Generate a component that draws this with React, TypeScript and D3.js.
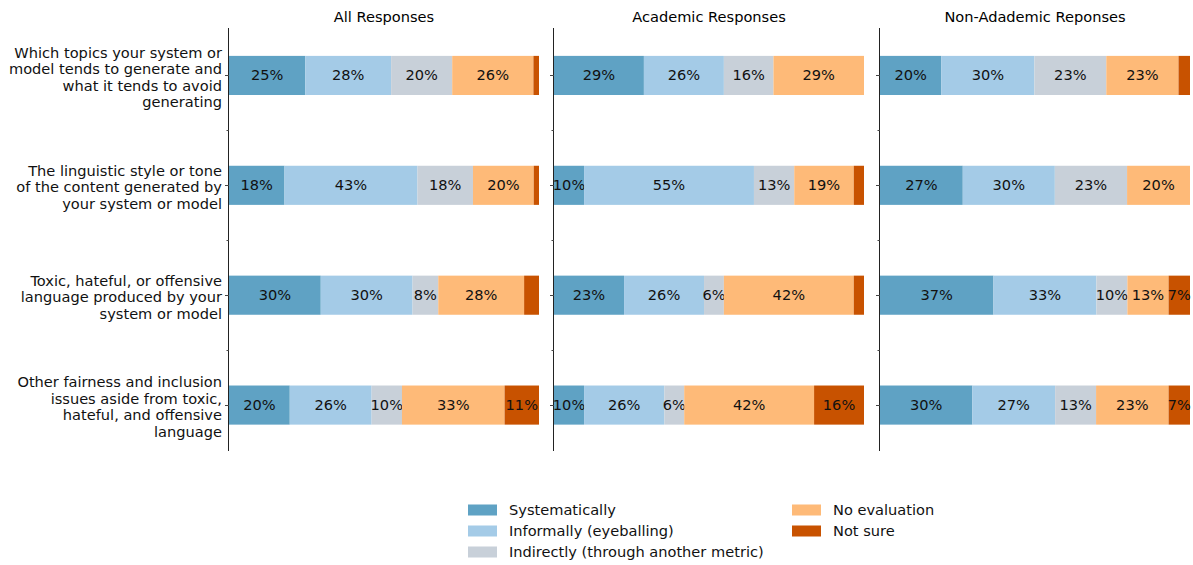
import React from "react";
import * as d3 from "d3";

const categories: string[][] = [
  ["Which topics your system or", "model tends to generate and", "what it tends to avoid", "generating"],
  ["The linguistic style or tone", "of the content generated by", "your system or model"],
  ["Toxic, hateful, or offensive", "language produced by your", "system or model"],
  ["Other fairness and inclusion", "issues aside from toxic,", "hateful, and offensive", "language"],
];

const seriesNames = [
  "Systematically",
  "Informally (eyeballing)",
  "Indirectly (through another metric)",
  "No evaluation",
  "Not sure",
];

const seriesColors = ["#5fa2c4", "#a4cbe7", "#c8d0d9", "#feba78", "#c85200"];

const panelTitles = ["All Responses", "Academic Responses", "Non-Adademic Reponses"];

// values per panel: rows = categories, columns = series (percent)
const allResponses = [
  [24.6, 27.7, 19.7, 26.2, 1.8],
  [17.9, 42.9, 17.9, 19.6, 1.7],
  [29.6, 29.6, 8.3, 27.7, 4.8],
  [19.6, 26.4, 9.8, 33.1, 11.1],
];
const academicResponses = [
  [29.0, 25.8, 16.0, 29.2, 0],
  [9.7, 54.8, 13.0, 19.2, 3.3],
  [22.6, 25.8, 6.4, 41.9, 3.3],
  [9.7, 25.9, 6.4, 41.9, 16.1],
];
const nonAcademicResponses = [
  [19.8, 30.0, 23.2, 23.3, 3.7],
  [26.7, 29.7, 23.3, 20.3, 0],
  [36.6, 33.2, 10.0, 13.3, 6.9],
  [29.8, 26.7, 13.2, 23.4, 6.9],
];

const panelData = [allResponses, academicResponses, nonAcademicResponses];

const FONT = "DejaVu Sans, Verdana, sans-serif";
const FS = 14.6;

export default function App() {
  const width = 1193;
  const height = 565;
  const panelX: [number, number][] = [
    [229, 539],
    [554, 864],
    [880, 1190],
  ];
  const y = d3.scaleLinear().domain([-0.4318, 3.418]).range([28, 451]);
  const barH = y(0.178) - y(-0.178);
  const lineH = 16.6;

  return (
    <svg
      width={width}
      height={height}
      style={{ position: "absolute", left: 0, top: 0, background: "#fff" }}
      fontFamily={FONT}
    >
      {panelData.map((rows, p) => {
        const x = d3.scaleLinear().domain([0, 100]).range(panelX[p]);
        const stack = d3
          .stack<number[]>()
          .keys(seriesNames.map((_, i) => String(i)))
          .value((d, k) => d[+k]);
        const stacked = stack(rows);
        return (
          <g key={p}>
            <text
              x={(panelX[p][0] + panelX[p][1]) / 2}
              y={16.2}
              fontSize={FS}
              textAnchor="middle"
              dominantBaseline="central"
              fill="#000"
            >
              {panelTitles[p]}
            </text>
            {stacked.map((layer, s) =>
              layer.map((seg, r) => {
                const x0 = x(seg[0]);
                const x1 = x(seg[1]);
                const v = rows[r][s];
                return (
                  <g key={`${s}-${r}`}>
                    {v > 0 && (
                      <rect
                        x={x0}
                        y={y(r) - barH / 2}
                        width={x1 - x0}
                        height={barH}
                        fill={seriesColors[s]}
                      />
                    )}
                    {v >= 5 && (
                      <text
                        x={(x0 + x1) / 2}
                        y={y(r) - 0.6}
                        fontSize={FS}
                        textAnchor="middle"
                        dominantBaseline="central"
                        fill="#111"
                      >
                        {`${Math.round(v)}%`}
                      </text>
                    )}
                  </g>
                );
              })
            )}
            <line
              x1={panelX[p][0] - 0.5}
              x2={panelX[p][0] - 0.5}
              y1={y.range()[0]}
              y2={y.range()[1]}
              stroke="#222"
              strokeWidth={1}
            />
            {[0, 1, 2, 3].map((t) => (
              <line
                key={`t${t}`}
                x1={panelX[p][0] - 4}
                x2={panelX[p][0]}
                y1={Math.round(y(t)) + 0.5}
                y2={Math.round(y(t)) + 0.5}
                stroke="#444"
              />
            ))}
            {[0.5, 1.5, 2.5].map((t) => (
              <line
                key={`m${t}`}
                x1={panelX[p][0] - 2.5}
                x2={panelX[p][0]}
                y1={Math.round(y(t)) + 0.5}
                y2={Math.round(y(t)) + 0.5}
                stroke="#444"
              />
            ))}
          </g>
        );
      })}
      {categories.map((lines, r) => {
        const cy = y(r) + 1.5;
        const top = cy - ((lines.length - 1) * lineH) / 2;
        return (
          <text key={r} x={222} fontSize={FS} textAnchor="end" fill="#111">
            {lines.map((ln, i) => (
              <tspan key={i} x={222} y={top + i * lineH} dominantBaseline="central">
                {ln}
              </tspan>
            ))}
          </text>
        );
      })}
      <g>
        {seriesNames.map((name, i) => {
          const col = i < 3 ? 0 : 1;
          const row = i < 3 ? i : i - 3;
          const sx = col === 0 ? 468 : 792;
          const sy = 510 + row * 21;
          return (
            <g key={name}>
              <rect x={sx} y={sy - 5.5} width={29} height={11} fill={seriesColors[i]} />
              <text
                x={sx + 41}
                y={sy - 0.8}
                fontSize={FS}
                dominantBaseline="central"
                fill="#111"
              >
                {name}
              </text>
            </g>
          );
        })}
      </g>
    </svg>
  );
}
